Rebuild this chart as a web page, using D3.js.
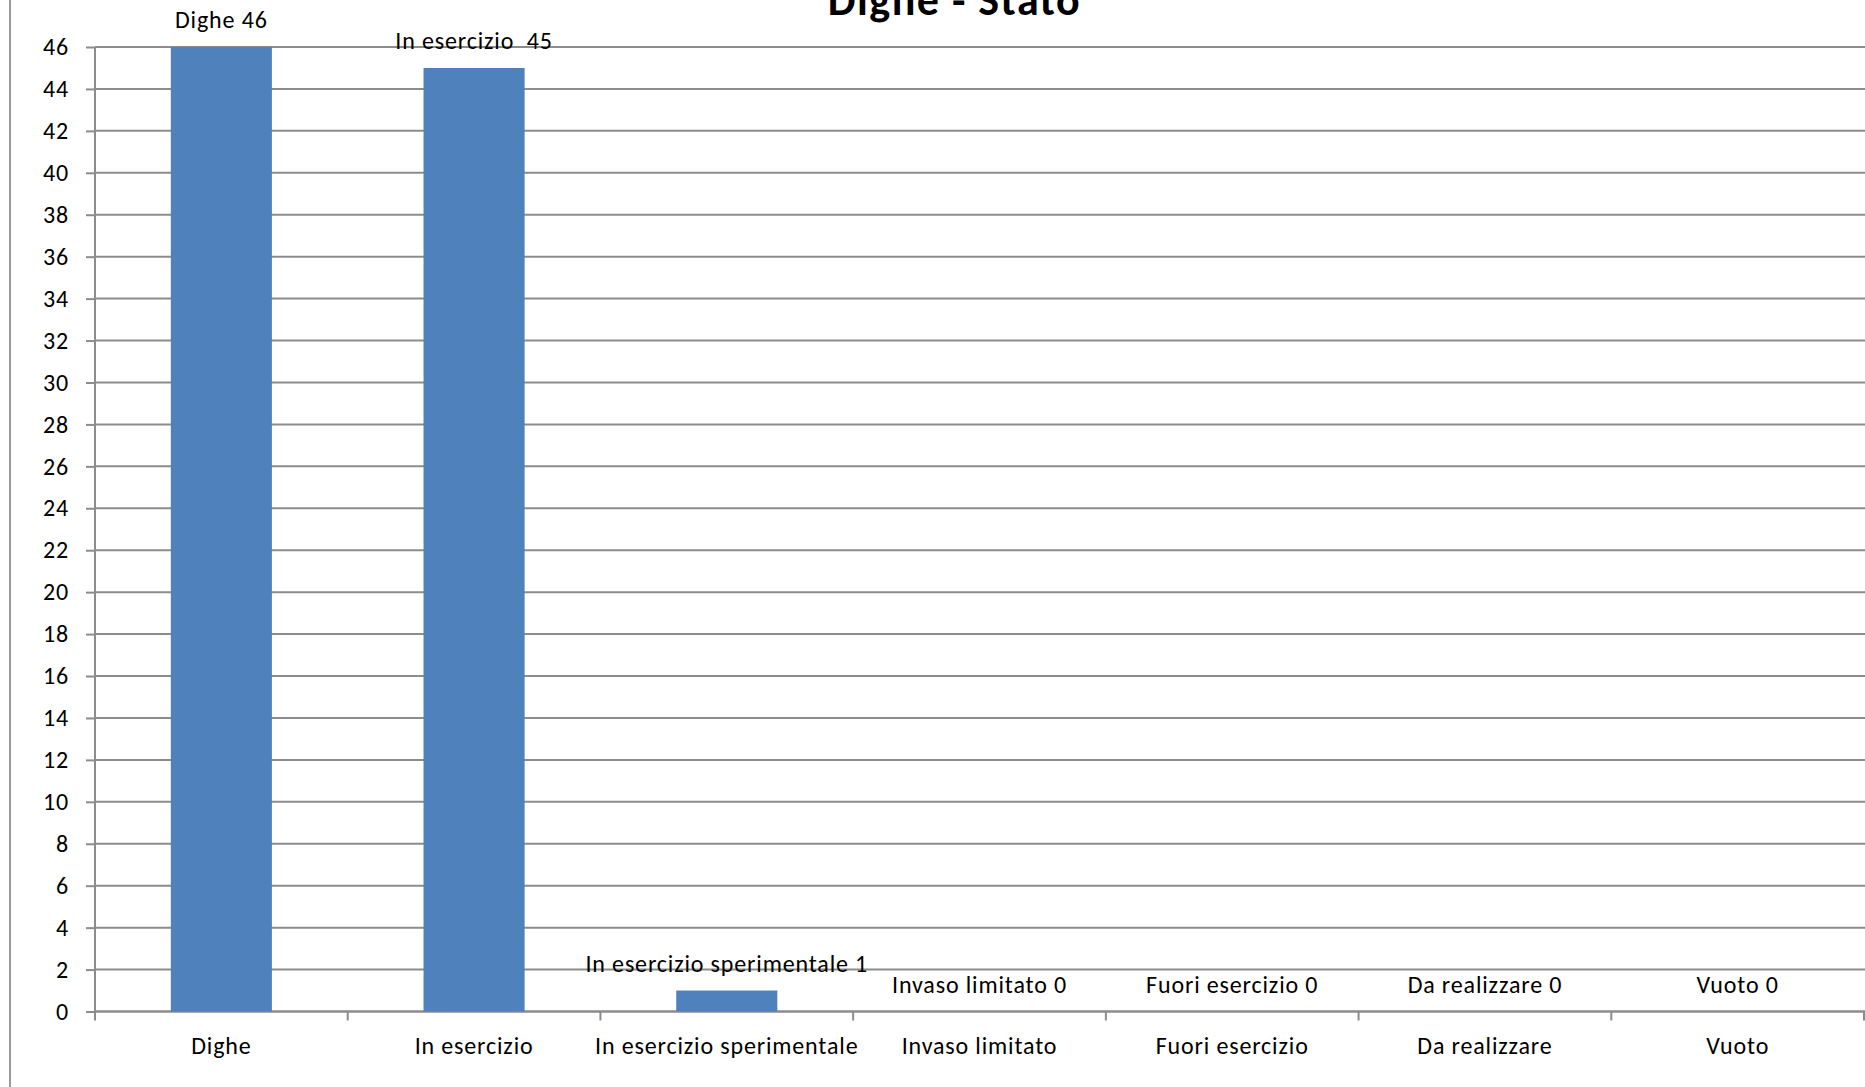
<!DOCTYPE html>
<html>
<head>
<meta charset="utf-8">
<script src="https://cdn.jsdelivr.net/npm/d3@7"></script>
<style>
  html, body { margin: 0; padding: 0; background: #ffffff; overflow: hidden; }
  svg { display: block; }
  text { font-family: Carlito, Calibri, Lato, sans-serif; fill: #000; }
</style>
</head>
<body>
<svg id="chart" width="1865" height="1087"></svg>
<script>
// ---- data ----
const chartTitle = "Dighe - Stato";
const categories = ["Dighe", "In esercizio", "In esercizio sperimentale", "Invaso limitato", "Fuori esercizio", "Da realizzare", "Vuoto"];
const values = [46, 45, 1, 0, 0, 0, 0];
const labelNames = ["Dighe", "In esercizio ", "In esercizio sperimentale", "Invaso limitato", "Fuori esercizio", "Da realizzare", "Vuoto"];
const yTicks = [0, 2, 4, 6, 8, 10, 12, 14, 16, 18, 20, 22, 24, 26, 28, 30, 32, 34, 36, 38, 40, 42, 44, 46];

// ---- layout ----
const W = 1865, H = 1087;
const plot = { left: 95, right: 1864, top: 47, bottom: 1011.5 };
const fontSize = 24;
const letterSp = 0.85;
const fontFamily = "Carlito, Calibri, Lato, sans-serif";
const gridColor = "#8c8c8c";
const barColor = "#4f81bd";

const svg = d3.select("#chart");

const x = d3.scaleBand()
  .domain(categories)
  .range([plot.left, plot.right])
  .paddingInner(0.6)
  .paddingOuter(0.3);

const y = d3.scaleLinear()
  .domain([0, 46])
  .range([plot.bottom, plot.top]);

// outer chart border (only left edge visible)
svg.append("line")
  .attr("x1", 10).attr("x2", 10)
  .attr("y1", 0).attr("y2", H)
  .attr("stroke", "#9a9a9a").attr("stroke-width", 2);

// gridlines
svg.append("g")
  .selectAll("line")
  .data(yTicks)
  .join("line")
  .attr("x1", plot.left).attr("x2", W)
  .attr("y1", d => y(d)).attr("y2", d => y(d))
  .attr("stroke", gridColor).attr("stroke-width", 2);

// y axis
const yAxis = d3.axisLeft(y).tickValues(yTicks).tickSize(9).tickPadding(17);
const gy = svg.append("g").attr("transform", `translate(${plot.left},0)`).call(yAxis);
gy.select(".domain").remove();
gy.append("line")
  .attr("x1", 0).attr("x2", 0)
  .attr("y1", plot.top).attr("y2", plot.bottom)
  .attr("stroke", gridColor).attr("stroke-width", 2);
gy.selectAll(".tick line").attr("stroke", gridColor).attr("stroke-width", 2);
gy.selectAll(".tick text")
  .attr("font-size", fontSize)
  .attr("letter-spacing", letterSp)
  .style("font-family", fontFamily)
  .attr("fill", "#000");

// x axis
const gx = svg.append("g").attr("transform", `translate(0,${plot.bottom})`);
gx.append("line")
  .attr("x1", plot.left).attr("x2", W)
  .attr("y1", 0).attr("y2", 0)
  .attr("stroke", gridColor).attr("stroke-width", 2);
const boundaries = d3.range(categories.length + 1).map(i => plot.left + i * x.step());
gx.selectAll(".xtick")
  .data(boundaries)
  .join("line")
  .attr("class", "xtick")
  .attr("x1", d => d).attr("x2", d => d)
  .attr("y1", 0).attr("y2", 9)
  .attr("stroke", gridColor).attr("stroke-width", 2);
gx.selectAll(".xlabel")
  .data(categories)
  .join("text")
  .attr("class", "xlabel")
  .attr("x", d => x(d) + x.bandwidth() / 2)
  .attr("y", 1054 - plot.bottom)
  .attr("text-anchor", "middle")
  .attr("font-size", fontSize)
  .attr("letter-spacing", letterSp)
  .text(d => d);

// bars
const data = categories.map((c, i) => ({ cat: c, value: values[i], name: labelNames[i] }));
svg.append("g")
  .selectAll("rect")
  .data(data)
  .join("rect")
  .attr("x", d => x(d.cat))
  .attr("width", x.bandwidth())
  .attr("y", d => y(d.value))
  .attr("height", d => y(0) - y(d.value))
  .attr("fill", barColor);

// data labels
svg.append("g")
  .selectAll("text")
  .data(data)
  .join("text")
  .attr("x", d => x(d.cat) + x.bandwidth() / 2)
  .attr("y", d => y(d.value) - 19)
  .attr("text-anchor", "middle")
  .attr("font-size", fontSize)
  .attr("letter-spacing", letterSp)
  .style("white-space", "pre")
  .attr("xml:space", "preserve")
  .text(d => d.name + " " + d.value);

// title
svg.append("text")
  .attr("x", 954.5)
  .attr("y", 15)
  .attr("text-anchor", "middle")
  .attr("font-size", 44)
  .attr("letter-spacing", 1.5)
  .attr("font-weight", "bold")
  .text(chartTitle);
</script>
</body>
</html>
